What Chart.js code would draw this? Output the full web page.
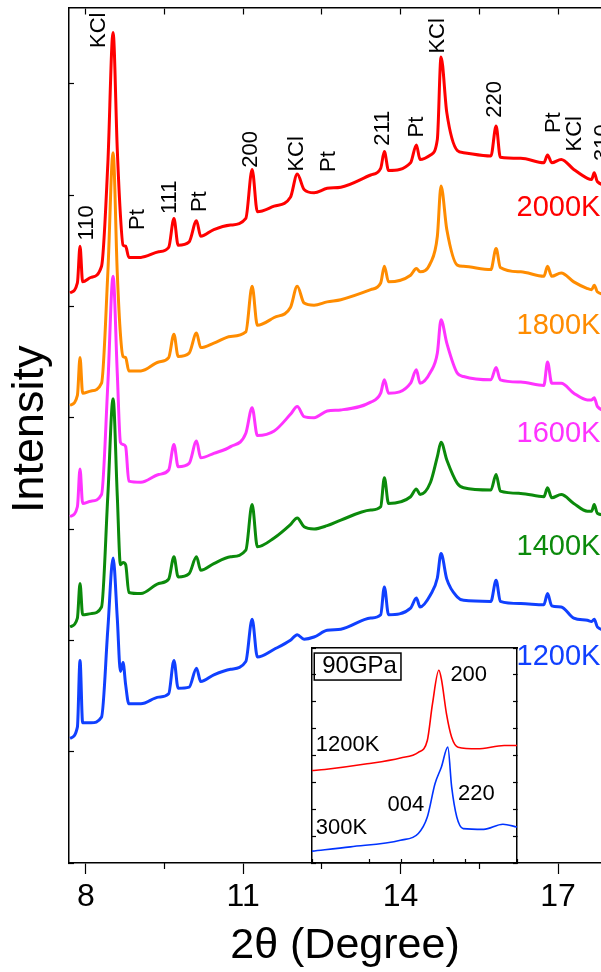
<!DOCTYPE html>
<html>
<head>
<meta charset="utf-8">
<script src="https://cdn.jsdelivr.net/npm/chart.js@4.4.1/dist/chart.umd.min.js"></script>
<style>
  html, body { margin: 0; padding: 0; background: #fff; overflow: hidden; }
  #wrap { position: relative; width: 625px; height: 972px; }
  #main { position: absolute; left: 0; top: 0; }
  #inset { position: absolute; left: 310px; top: 646px; }
</style>
</head>
<body>
<div id="wrap">
  <canvas id="main" width="625" height="972"></canvas>
  <canvas id="inset" width="209" height="219"></canvas>
</div>
<script>
// 2theta grid shared by all the patterns (degree)
const twoTheta = [7.70, 7.84, 7.89, 7.94, 8.10, 8.30, 8.42, 8.52, 8.60, 8.66,
  8.71, 8.76, 8.82, 9.05, 9.39, 9.58, 9.68, 9.76, 9.97, 10.11,
  10.19, 10.44, 10.76, 11.05, 11.17, 11.27, 11.59, 11.90, 12.03, 12.16,
  12.35, 12.60, 12.86, 13.43, 13.62, 13.69, 13.77, 14.19, 14.30, 14.37,
  14.57, 14.70, 14.77, 14.88, 15.08, 15.20, 15.72, 15.82, 15.90, 16.29,
  16.73, 16.80, 16.88, 17.06, 17.30, 17.56, 17.64, 17.69, 17.75, 18.00];

// intensities (stacked, arbitrary units)
const int2000 = [5.12, 5.21, 5.54, 5.22, 5.26, 5.36, 6.28, 7.46, 6.41, 5.82,
  5.55, 5.54, 5.44, 5.44, 5.49, 5.53, 5.79, 5.55, 5.58, 5.77,
  5.63, 5.69, 5.73, 5.79, 6.23, 5.85, 5.90, 5.98, 6.19, 6.05,
  6.02, 6.06, 6.07, 6.18, 6.24, 6.39, 6.22, 6.29, 6.45, 6.32,
  6.36, 6.50, 7.24, 6.74, 6.40, 6.38, 6.35, 6.62, 6.34, 6.33,
  6.29, 6.36, 6.29, 6.32, 6.23, 6.15, 6.14, 6.20, 6.12, 6.08];
const int1800 = [4.11, 4.20, 4.54, 4.22, 4.24, 4.31, 5.30, 6.38, 5.30, 4.75,
  4.55, 4.54, 4.42, 4.42, 4.50, 4.54, 4.75, 4.55, 4.58, 4.76,
  4.63, 4.67, 4.73, 4.77, 5.18, 4.83, 4.90, 4.99, 5.18, 5.03,
  5.01, 5.04, 5.06, 5.15, 5.21, 5.36, 5.22, 5.28, 5.34, 5.31,
  5.39, 5.63, 6.08, 5.69, 5.37, 5.36, 5.33, 5.52, 5.35, 5.31,
  5.27, 5.36, 5.27, 5.30, 5.22, 5.16, 5.15, 5.19, 5.13, 5.10];
const int1600 = [3.11, 3.20, 3.54, 3.23, 3.25, 3.31, 4.30, 5.27, 4.40, 3.78,
  3.76, 3.74, 3.43, 3.42, 3.49, 3.53, 3.76, 3.56, 3.59, 3.79,
  3.64, 3.68, 3.74, 3.86, 4.09, 3.84, 3.88, 4.03, 4.10, 4.01,
  4.00, 4.06, 4.07, 4.14, 4.22, 4.34, 4.22, 4.31, 4.43, 4.31,
  4.41, 4.58, 4.88, 4.67, 4.40, 4.37, 4.34, 4.45, 4.34, 4.32,
  4.29, 4.50, 4.31, 4.31, 4.22, 4.16, 4.16, 4.18, 4.10, 4.05];
const int1400 = [2.12, 2.20, 2.51, 2.23, 2.24, 2.30, 3.30, 4.17, 3.30, 2.68,
  2.70, 2.68, 2.43, 2.42, 2.51, 2.55, 2.75, 2.57, 2.60, 2.75,
  2.63, 2.69, 2.75, 2.81, 3.22, 2.84, 2.92, 3.04, 3.10, 3.02,
  3.00, 3.03, 3.08, 3.17, 3.20, 3.46, 3.23, 3.29, 3.36, 3.31,
  3.42, 3.65, 3.78, 3.62, 3.41, 3.37, 3.35, 3.49, 3.34, 3.32,
  3.29, 3.37, 3.28, 3.31, 3.23, 3.16, 3.16, 3.22, 3.14, 3.12];
const int1200 = [1.12, 1.22, 1.82, 1.26, 1.26, 1.31, 2.10, 2.74, 2.20, 1.72,
  1.80, 1.60, 1.43, 1.43, 1.49, 1.52, 1.82, 1.57, 1.58, 1.75,
  1.63, 1.69, 1.74, 1.81, 2.19, 1.85, 1.92, 2.00, 2.05, 2.01,
  2.03, 2.09, 2.10, 2.20, 2.23, 2.48, 2.23, 2.29, 2.38, 2.30,
  2.41, 2.56, 2.78, 2.55, 2.39, 2.36, 2.35, 2.54, 2.35, 2.33,
  2.32, 2.42, 2.31, 2.30, 2.20, 2.18, 2.17, 2.19, 2.12, 2.08];

const temperatures = ['2000K', '1800K', '1600K', '1400K', '1200K'];
const series = [int2000, int1800, int1600, int1400, int1200];
const colors = ['#ff0000', '#ff8c00', '#ff33ff', '#0b8a0b', '#1040ff'];

// x axis ticks
const majorTicks = [8, 11, 14, 17];
const minorTicks = [9.5, 12.5, 15.5];
const levelTicks = [0, 1, 2, 3, 4, 5, 6, 7];

// peak names and where they sit (2theta, level)
const peakNames = ['110', 'KCl', 'Pt', '111', 'Pt', '200', 'KCl', 'Pt', '211', 'Pt', 'KCl', '220', 'Pt', 'KCl', '310'];
const peakNameTheta = [8.03, 8.26, 8.99, 9.61, 10.17, 11.14, 12.03, 12.64, 13.67, 14.31, 14.72, 15.80, 16.93, 17.32, 17.86];
const peakNameLevel = [5.75, 7.48, 5.78, 5.98, 5.94, 6.41, 6.37, 6.30, 6.60, 6.61, 7.43, 6.86, 6.65, 6.55, 6.47];
const tempNameTheta = 16.21;
const tempNameLevel = [5.88, 4.82, 3.85, 2.84, 1.85];

// inset: 90 GPa, 1200K vs 300K
const insetTheta1200 = [13.80, 13.90, 14.23, 14.49, 14.63, 14.70, 14.74, 14.79, 14.81, 14.85, 14.89, 14.94, 15.09, 15.30, 15.40];
const insetInt1200 = [3.44, 3.48, 3.69, 3.91, 4.12, 4.56, 5.91, 7.17, 6.84, 5.54, 4.68, 4.31, 4.25, 4.37, 4.37];
const insetTheta300 = [13.80, 14.10, 14.49, 14.63, 14.70, 14.76, 14.81, 14.86, 14.89, 14.93, 14.98, 15.14, 15.29, 15.40];
const insetInt300 = [0.44, 0.60, 0.85, 1.10, 1.71, 2.95, 3.57, 4.31, 2.83, 1.71, 1.28, 1.25, 1.44, 1.34];
const insetNames = ['200', '1200K', '004', '220', '300K'];
const insetNameTheta = [14.88, 13.83, 14.39, 14.94, 13.83];
const insetNameLevel = [7.0, 4.41, 2.15, 2.56, 1.30];

const FONT = '"Liberation Sans", Arial, sans-serif';
Chart.defaults.font.family = FONT;
Chart.defaults.color = '#000';

const labelPlugin = {
  id: 'peakText',
  afterDatasetsDraw(chart) {
    const { ctx } = chart;
    const x = chart.scales.x, y = chart.scales.y;
    ctx.save();
    ctx.fillStyle = '#000';
    ctx.font = '22px ' + FONT;
    ctx.textAlign = 'center';
    ctx.textBaseline = 'middle';
    peakNames.forEach((name, i) => {
      ctx.save();
      ctx.translate(x.getPixelForValue(peakNameTheta[i]), y.getPixelForValue(peakNameLevel[i]));
      ctx.rotate(-Math.PI / 2);
      ctx.fillText(name, 0, 0);
      ctx.restore();
    });
    ctx.font = '29px ' + FONT;
    ctx.textAlign = 'left';
    temperatures.forEach((t, i) => {
      ctx.fillStyle = colors[i];
      ctx.fillText(t, x.getPixelForValue(tempNameTheta), y.getPixelForValue(tempNameLevel[i]));
    });
    ctx.restore();
  }
};

const blackGrid = (len) => ({ drawOnChartArea: false, color: '#000', tickColor: '#000', tickLength: len, tickWidth: 1.2 });
const blackBorder = { display: true, color: '#000', width: 1.5 };

new Chart(document.getElementById('main'), {
  type: 'line',
  data: {
    datasets: series.map((s, k) => ({
      label: temperatures[k],
      data: twoTheta.map((t, i) => ({ x: t, y: s[i] })),
      borderColor: colors[k],
      borderWidth: 3,
      pointRadius: 0,
      cubicInterpolationMode: 'monotone',
      fill: false
    }))
  },
  options: {
    responsive: false,
    animation: false,
    layout: { padding: { top: 8, left: 0, right: 4, bottom: 0 } },
    plugins: { legend: { display: false }, tooltip: { enabled: false } },
    scales: {
      x: {
        type: 'linear', position: 'bottom', min: 7.68, max: 18.2,
        afterBuildTicks: s => { s.ticks = majorTicks.map(v => ({ value: v })); },
        afterFit: s => { s.height = 109; },
        grid: blackGrid(11),
        border: blackBorder,
        ticks: { font: { size: 32 }, color: '#000', padding: 4, maxRotation: 0 },
        title: { display: true, text: '2θ (Degree)', font: { size: 43, lineHeight: 1.2 }, color: '#000', padding: { top: 0, bottom: 0 } }
      },
      xMinor: {
        type: 'linear', position: { y: 0 }, min: 7.68, max: 18.2,
        afterBuildTicks: s => { s.ticks = minorTicks.map(v => ({ value: v })); },
        grid: blackGrid(6),
        border: { display: false },
        ticks: { display: false }
      },
      xTop: {
        type: 'linear', position: { y: 7.68 }, min: 7.68, max: 18.2,
        afterBuildTicks: s => { s.ticks = majorTicks.concat(minorTicks).map(v => ({ value: v })); },
        grid: blackGrid(6),
        border: blackBorder,
        ticks: { display: false }
      },
      y: {
        type: 'linear', position: 'left', min: 0, max: 7.68,
        afterBuildTicks: s => { s.ticks = levelTicks.map(v => ({ value: v })); },
        afterFit: s => { s.width = 69; },
        grid: blackGrid(-5),
        border: blackBorder,
        ticks: { display: false },
        title: { display: true, text: ' Intensity', font: { size: 45, lineHeight: 1.2 }, color: '#000', padding: { top: 4, bottom: 0 } }
      }
    }
  },
  plugins: [labelPlugin]
});

const insetTextPlugin = {
  id: 'insetText',
  afterDatasetsDraw(chart) {
    const { ctx } = chart;
    const x = chart.scales.x, y = chart.scales.y;
    ctx.save();
    ctx.fillStyle = '#000';
    ctx.textBaseline = 'middle';
    ctx.textAlign = 'left';
    // boxed pressure tag
    ctx.font = '24px ' + FONT;
    const bx = x.getPixelForValue(13.88), by = y.getPixelForValue(7.31);
    const w = ctx.measureText('90GPa').width;
    ctx.fillText('90GPa', bx, by);
    ctx.lineWidth = 1.5;
    ctx.strokeStyle = '#000';
    ctx.strokeRect(bx - 8, by - 13.5, w + 12, 27);
    ctx.font = '22px ' + FONT;
    insetNames.forEach((name, i) => {
      ctx.fillText(name, x.getPixelForValue(insetNameTheta[i]), y.getPixelForValue(insetNameLevel[i]));
    });
    ctx.restore();
  }
};

new Chart(document.getElementById('inset'), {
  type: 'line',
  data: {
    datasets: [
      { data: insetTheta1200.map((t, i) => ({ x: t, y: insetInt1200[i] })), borderColor: '#ff0000', borderWidth: 1.6, pointRadius: 0, cubicInterpolationMode: 'monotone' },
      { data: insetTheta300.map((t, i) => ({ x: t, y: insetInt300[i] })), borderColor: '#0033ff', borderWidth: 1.6, pointRadius: 0, cubicInterpolationMode: 'monotone' }
    ]
  },
  options: {
    responsive: false,
    animation: false,
    layout: { padding: 2 },
    plugins: { legend: { display: false }, tooltip: { enabled: false } },
    scales: {
      x: {
        type: 'linear', position: 'bottom', min: 13.8, max: 15.4,
        afterFit: s => { s.height = 0; },
        ticks: { display: false, stepSize: 0.25 },
        grid: blackGrid(-4),
        border: blackBorder
      },
      xt: {
        type: 'linear', position: { y: 8 }, min: 13.8, max: 15.4,
        ticks: { display: false },
        grid: { drawOnChartArea: false, drawTicks: false },
        border: blackBorder
      },
      y: {
        type: 'linear', position: 'left', min: 0, max: 8,
        afterFit: s => { s.width = 0; },
        ticks: { display: false, stepSize: 1 },
        grid: blackGrid(-4),
        border: blackBorder
      },
      yr: {
        type: 'linear', position: 'right', min: 0, max: 8,
        afterFit: s => { s.width = 0; },
        ticks: { display: false, stepSize: 1 },
        grid: blackGrid(-4),
        border: blackBorder
      }
    }
  },
  plugins: [insetTextPlugin]
});
</script>
</body>
</html>
